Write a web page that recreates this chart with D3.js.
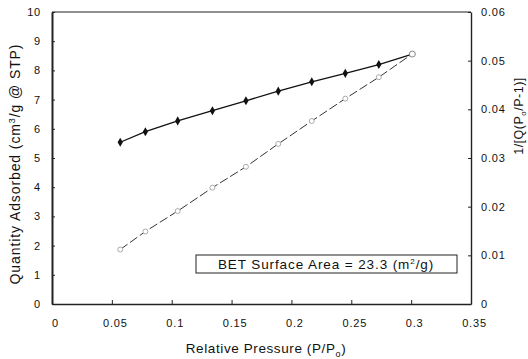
<!DOCTYPE html>
<html>
<head>
<meta charset="utf-8">
<script src="https://cdn.jsdelivr.net/npm/d3@7"></script>
<style>
  body { margin: 0; background: #fff; }
  text { font-family: "Liberation Sans", Arial, sans-serif; fill: #111; }
</style>
</head>
<body>
<script>
var width = 528, height = 359;

// relative pressure P/Po
var pressure = [0.057, 0.078, 0.105, 0.134, 0.162, 0.189, 0.217, 0.245, 0.273, 0.301];
// quantity adsorbed, left axis
var quantity = [5.54, 5.90, 6.27, 6.62, 6.96, 7.29, 7.61, 7.90, 8.20, 8.56];
// BET transform, right axis
var bet = [0.0112, 0.0149, 0.0191, 0.0239, 0.0282, 0.0329, 0.0376, 0.0422, 0.0466, 0.0514];

var xTicks = [0, 0.05, 0.1, 0.15, 0.2, 0.25, 0.3, 0.35];
var yTicks = [0, 1, 2, 3, 4, 5, 6, 7, 8, 9, 10];
var y2Ticks = [0, 0.01, 0.02, 0.03, 0.04, 0.05, 0.06];

var x0 = 52, x1 = 471, yTop = 12, yBot = 304;

var x = d3.scaleLinear().domain([0, 0.35]).range([x0, x1]);
var y = d3.scaleLinear().domain([0, 10]).range([yBot, yTop]);
var y2 = d3.scaleLinear().domain([0, 0.06]).range([yBot, yTop]);

var svg = d3.select("body").append("svg")
            .attr("width", width)
            .attr("height", height);

svg.append("rect").attr("width", width).attr("height", height).attr("fill", "#fff");

// frame
svg.append("line").attr("x1", x0).attr("x2", x1).attr("y1", yTop).attr("y2", yTop)
   .attr("stroke", "#222").attr("stroke-width", 1);

// axes
var bottom = svg.append("g")
                .attr("transform", "translate(0," + yBot + ")")
                .call(d3.axisBottom(x).tickValues(xTicks).tickSizeInner(-4).tickSizeOuter(0)
                        .tickPadding(15).tickFormat(d => d === 0 ? "0" : String(d)));

var left = svg.append("g")
              .attr("transform", "translate(" + x0 + ",0)")
              .call(d3.axisLeft(y).tickValues(yTicks).tickSizeInner(-3).tickSizeOuter(0)
                      .tickPadding(11));

var right = svg.append("g")
               .attr("transform", "translate(" + x1 + ",0)")
               .call(d3.axisRight(y2).tickValues(y2Ticks).tickSizeInner(-3).tickSizeOuter(0)
                       .tickPadding(10).tickFormat(d => d === 0 ? "0" : d3.format(".2f")(d)));

[bottom, left, right].forEach(function (g) {
  g.selectAll("text").attr("font-size", 11).attr("letter-spacing", 0.8)
   .attr("font-family", "Liberation Sans, Arial, sans-serif").attr("fill", "#222");
  g.selectAll("line").attr("stroke", "#222");
  g.select(".domain").attr("stroke", "#222").attr("stroke-width", 1.4);
});
left.select(".domain").attr("stroke-width", 2);
bottom.selectAll("text").attr("dx", 3);

// BET line (open circles)
var betLine = d3.line().x((d, i) => x(pressure[i])).y(d => y2(d));
svg.append("path")
   .datum(bet)
   .attr("d", betLine)
   .attr("fill", "none")
   .attr("stroke", "#333")
   .attr("stroke-width", 1)
   .attr("stroke-dasharray", "9,3");

svg.selectAll(".bet")
   .data(bet)
   .enter()
   .append("circle")
   .attr("class", "bet")
   .attr("cx", (d, i) => x(pressure[i]))
   .attr("cy", d => y2(d))
   .attr("r", 2.5)
   .attr("fill", "#fff")
   .attr("stroke", "#aaa")
   .attr("stroke-width", 1);

// quantity adsorbed (filled diamonds)
var qLine = d3.line().x((d, i) => x(pressure[i])).y(d => y(d));
svg.append("path")
   .datum(quantity)
   .attr("d", qLine)
   .attr("fill", "none")
   .attr("stroke", "#111")
   .attr("stroke-width", 1.3);

svg.selectAll(".q")
   .data(quantity.slice(0, -1))
   .enter()
   .append("path")
   .attr("class", "q")
   .attr("d", d3.symbol().type(d3.symbolDiamond).size(24))
   .attr("transform", (d, i) => "translate(" + x(pressure[i]) + "," + y(d) + ")")
   .attr("fill", "#111");

// last point drawn as open circle
svg.append("circle")
   .attr("cx", x(pressure[pressure.length - 1]))
   .attr("cy", y(quantity[quantity.length - 1]))
   .attr("r", 3)
   .attr("fill", "#fff")
   .attr("stroke", "#888");

// annotation box
svg.append("rect")
   .attr("x", 196).attr("y", 255).attr("width", 261).attr("height", 18)
   .attr("fill", "#fff").attr("stroke", "#222").attr("stroke-width", 1);

var note = svg.append("text")
              .attr("x", 326).attr("y", 269)
              .attr("text-anchor", "middle")
              .attr("font-size", 13.5)
              .attr("letter-spacing", 0.9);
note.append("tspan").text("BET Surface Area = 23.3 (m");
note.append("tspan").attr("dy", -5).attr("font-size", 8).text("2");
note.append("tspan").attr("dy", 5).text("/g)");

// axis titles
var xt = svg.append("text")
            .attr("x", 266).attr("y", 353)
            .attr("text-anchor", "middle")
            .attr("font-size", 13.5)
            .attr("letter-spacing", 0.6);
xt.append("tspan").text("Relative Pressure (P/P");
xt.append("tspan").attr("dy", 4).attr("font-size", 9).text("o");
xt.append("tspan").attr("dy", -4).text(")");

var yt = svg.append("text")
             .attr("transform", "translate(20,164)rotate(-90)")
             .attr("text-anchor", "middle")
             .attr("font-size", 14)
             .attr("letter-spacing", 0.9);
yt.append("tspan").text("Quantity Adsorbed (cm");
yt.append("tspan").attr("dy", -5).attr("font-size", 9).text("3");
yt.append("tspan").attr("dy", 5).text("/g @ STP)");

var y2t = svg.append("text")
             .attr("transform", "translate(523,116)rotate(-90)")
             .attr("text-anchor", "middle")
             .attr("font-size", 12.5)
             .attr("letter-spacing", 0.5);
y2t.append("tspan").text("1/[Q(P");
y2t.append("tspan").attr("dy", 3).attr("font-size", 8).text("o");
y2t.append("tspan").attr("dy", -3).text("/P-1)]");
</script>
</body>
</html>
